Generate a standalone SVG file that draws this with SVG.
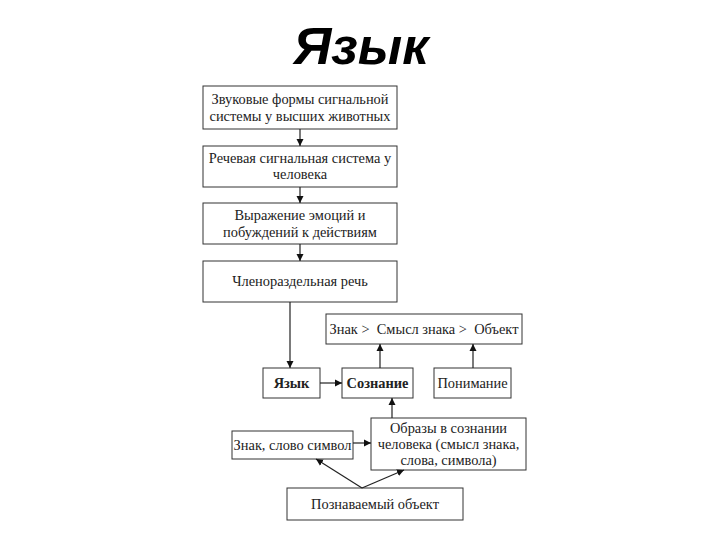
<svg xmlns="http://www.w3.org/2000/svg" width="720" height="540" viewBox="0 0 720 540">
<style>
.b{fill:#fff;stroke:#333;stroke-width:1}
.t{font-family:"Liberation Serif","Times New Roman",serif;font-size:14.4px;fill:#222;text-anchor:middle}
.bold{font-weight:bold}
.c{stroke:#222;stroke-width:1.2;fill:none}
</style>
<defs>
<marker id="a" markerWidth="8" markerHeight="8" refX="7" refY="4" orient="auto" markerUnits="userSpaceOnUse">
<path d="M0,0.5 L7,4 L0,7.5 Z" fill="#111"/>
</marker>
</defs>
<rect width="720" height="540" fill="#fff"/>
<text x="361" y="64" font-family="Liberation Sans, Arial, sans-serif" font-size="52" font-weight="bold" font-style="italic" text-anchor="middle" fill="#000">Язык</text>
<g id="n1"><rect class="b" x="203" y="86" width="194" height="43"/>
<text class="t" x="300" y="104">Звуковые формы сигнальной</text>
<text class="t" x="300" y="121">системы у высших животных</text></g>
<g id="n2"><rect class="b" x="203" y="146" width="194" height="41"/>
<text class="t" x="300" y="163">Речевая сигнальная система у</text>
<text class="t" x="300" y="179">человека</text></g>
<g id="n3"><rect class="b" x="203" y="203" width="194" height="41"/>
<text class="t" x="300" y="220">Выражение эмоций и</text>
<text class="t" x="300" y="237">побуждений к действиям</text></g>
<g id="n4"><rect class="b" x="203" y="261" width="194" height="41"/>
<text class="t" x="300" y="286">Членораздельная речь</text></g>
<g id="n5"><rect class="b" x="326" y="314" width="196" height="30"/>
<text class="t" x="424" y="334" xml:space="preserve" style="white-space:pre">Знак &gt;  Смысл знака &gt;  Объект</text></g>
<g id="n6"><rect class="b" x="263" y="368" width="57" height="30"/>
<text class="t bold" x="291.5" y="388">Язык</text></g>
<g id="n7"><rect class="b" x="342" y="368" width="71" height="30"/>
<text class="t bold" x="377.5" y="388">Сознание</text></g>
<g id="n8"><rect class="b" x="434" y="368" width="77" height="30"/>
<text class="t" x="472.5" y="388">Понимание</text></g>
<g id="n9"><rect class="b" x="232" y="431" width="121" height="28"/>
<text class="t" x="292.5" y="450">Знак, слово символ</text></g>
<g id="n10"><rect class="b" x="371" y="418" width="155" height="52"/>
<text class="t" x="448.5" y="433">Образы в сознании</text>
<text class="t" x="448.5" y="449">человека (смысл знака,</text>
<text class="t" x="448.5" y="465">слова, символа)</text></g>
<g id="n11"><rect class="b" x="287" y="488" width="176" height="32"/>
<text class="t" x="375" y="509">Познаваемый объект</text></g>
<g id="connectors">
<line class="c" x1="300" y1="129" x2="300" y2="146" marker-end="url(#a)"/>
<line class="c" x1="300" y1="187" x2="300" y2="203" marker-end="url(#a)"/>
<line class="c" x1="300" y1="244" x2="300" y2="261" marker-end="url(#a)"/>
<line class="c" x1="290" y1="302" x2="290" y2="368" marker-end="url(#a)"/>
<line class="c" x1="320" y1="383" x2="342" y2="383" marker-end="url(#a)"/>
<line class="c" x1="380" y1="368" x2="380" y2="344" marker-end="url(#a)"/>
<line class="c" x1="473" y1="368" x2="473" y2="344" marker-end="url(#a)"/>
<line class="c" x1="392" y1="418" x2="392" y2="398" marker-end="url(#a)"/>
<line class="c" x1="353" y1="443" x2="371" y2="443" marker-end="url(#a)"/>
<line class="c" x1="362" y1="488" x2="316" y2="459" marker-end="url(#a)"/>
<line class="c" x1="362" y1="488" x2="404" y2="470" marker-end="url(#a)"/>
</g>
</svg>
